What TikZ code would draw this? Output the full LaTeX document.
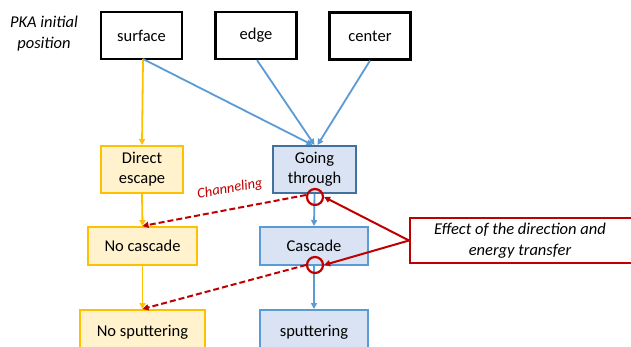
\documentclass[tikz,border=0pt]{standalone}
\usepackage{fontspec}
\setmainfont{Carlito}
\usetikzlibrary{arrows.meta}
\definecolor{org}{HTML}{FFC000}
\definecolor{orgfill}{HTML}{FFF2CC}
\definecolor{bl}{HTML}{5B9BD5}
\definecolor{bldark}{HTML}{41719C}
\definecolor{blfill}{HTML}{DAE3F3}
\definecolor{rd}{HTML}{C00000}
\begin{document}
\begin{tikzpicture}[x=1pt,y=-1pt,
  font=\fontsize{16.5}{20}\selectfont,
  tip/.style={-{Triangle[length=6pt,width=6pt]}},
  blackbox/.style={draw=black,line width=2.2pt,fill=white,minimum width=81pt,minimum height=47pt,inner sep=0pt},
  orgbox/.style={draw=org,line width=2pt,fill=orgfill,minimum height=38pt,inner sep=0pt,align=center},
  blbox/.style={draw=bl,line width=2pt,fill=blfill,minimum height=38pt,inner sep=0pt,align=center},
  orgline/.style={draw=org,line width=1.8pt,tip},
  blline/.style={draw=bl,line width=1.8pt,tip},
  redash/.style={draw=rd,line width=2pt,dash pattern=on 6pt off 3pt,tip},
  redline/.style={draw=rd,line width=2pt,tip},
  ring/.style={draw=rd,line width=2.2pt,circle,minimum size=16pt,inner sep=0pt}]
\useasboundingbox (0,0) rectangle (631,347);
\clip (0,0) rectangle (631,347);
\fill[white] (0,0) rectangle (631,347);

\node[font=\fontsize{16.5}{21}\selectfont\itshape,align=center] (pka) at (44,34) {PKA initial\\position};

\node[blackbox] (surface) at (141.5,35.5) {surface};
\node[blackbox] (edge) at (256,35.5) {edge};
\node[blackbox] (center) at (370,36) {center};

\node[orgbox,minimum width=82pt,minimum height=47pt,align=center] (direct) at (142,169.5) {Direct\\escape};
\node[blbox,draw=bldark,minimum width=83pt,minimum height=47pt,align=center] (going) at (314.5,169.5) {Going\\through};
\node[orgbox,minimum width=109pt] (nocasc) at (142.5,246) {No cascade};
\node[blbox,minimum width=108pt] (casc) at (314,246) {Cascade};
\node[orgbox,minimum width=125pt,minimum height=44pt] (nospu) at (142.5,332) {No sputtering};
\node[blbox,minimum width=108pt,minimum height=44pt] (spu) at (314,332) {sputtering};

\node[draw=rd,line width=2pt,fill=white,minimum width=240pt,minimum height=45pt,anchor=west,inner sep=0pt] (effect) at (409,240.5) {};
\node[font=\fontsize{16.5}{21}\selectfont\itshape,align=center] (efftext) at (520,241) {Effect of the direction and\\energy transfer};

% connectors
\coordinate (sb) at (143,59);
\path[orgline] (sb) -- (direct.north);
\path[blline] (sb) -- ([xshift=-2pt]going.north);
\path[blline] ([xshift=1pt]edge.south) -- (going.north);
\path[blline] (center.south) -- ([xshift=3pt]going.north);
\path[orgline] (direct.south) -- (nocasc.north);
\path[orgline] (nocasc.south) -- (nospu.north);
\path[blline] (going.south) -- (casc.north);
\path[blline] (casc.south) -- (spu.north);

\node[ring] (r1) at (315,197) {};
\node[ring] (r2) at (315,265) {};
\coordinate (d1) at (306,195);
\coordinate (d2) at (306,265);
\path[redash] (d1) -- (nocasc.north);
\path[redash] (d2) -- (nospu.north);
\node[rd,font=\fontsize{14.5}{17}\selectfont\itshape,rotate=10] (chan) at (230,189) {Channeling};
\path[redline] (effect.west) -- (r1.east);
\path[redline] (effect.west) -- (r2.east);
\end{tikzpicture}
\end{document}
